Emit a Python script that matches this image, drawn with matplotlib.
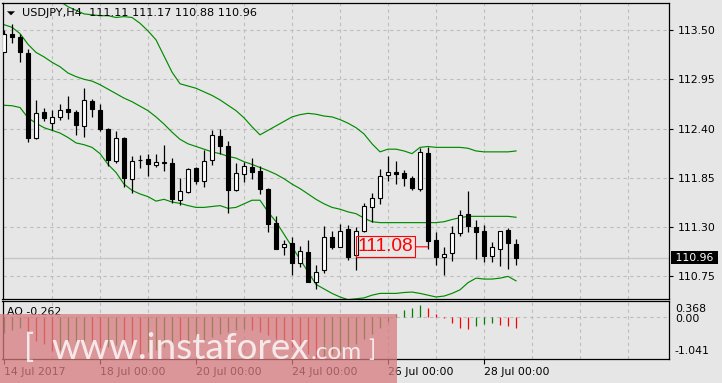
import matplotlib
matplotlib.use("Agg")
import matplotlib.pyplot as plt
from matplotlib.patches import Rectangle, Polygon
import numpy as np

# ---------------- data ----------------
symbol = "USDJPY,H4"
opens = [113.25, 113.46, 113.42, 113.24, 112.29, 112.58, 112.46, 112.53, 112.62, 112.59,
         112.43, 112.71, 112.61, 112.40, 112.04, 112.30, 111.84, 112.05, 112.06, 111.99,
         112.02, 112.01, 111.60, 111.69, 111.96, 111.81, 112.05, 112.32, 112.21, 111.71,
         111.89, 111.97, 111.93, 111.73, 111.35, 111.08, 111.12, 110.90, 111.02, 110.69,
         110.82, 111.19, 111.08, 111.28, 110.99, 111.26, 111.52, 111.62, 111.88, 111.91,
         111.90, 111.85, 111.73, 112.13, 111.16, 110.97, 111.01, 111.23, 111.45, 111.30,
         111.26, 110.98, 111.06, 111.27, 111.11]
highs = [113.50, 113.57, 113.46, 113.29, 112.72, 112.63, 112.61, 112.67, 112.76, 112.61,
         112.85, 112.73, 112.67, 112.41, 112.37, 112.31, 112.09, 112.11, 112.12, 112.12,
         112.22, 112.07, 111.85, 111.96, 111.97, 112.16, 112.38, 112.40, 112.26, 112.01,
         112.03, 112.07, 111.98, 111.74, 111.42, 111.16, 111.19, 111.09, 111.16, 110.88,
         111.31, 111.26, 111.33, 111.32, 111.30, 111.57, 111.68, 111.95, 112.09, 112.04,
         111.94, 111.87, 112.18, 112.19, 111.24, 111.08, 111.31, 111.49, 111.70, 111.38,
         111.32, 111.13, 111.26, 111.29, 111.17]
lows = [113.25, 113.36, 113.14, 112.25, 112.28, 112.48, 112.38, 112.50, 112.51, 112.33,
        112.31, 112.53, 112.37, 111.98, 112.01, 111.75, 111.68, 111.96, 111.87, 111.97,
        111.93, 111.57, 111.55, 111.68, 111.78, 111.75, 111.99, 112.12, 111.46, 111.70,
        111.80, 111.84, 111.67, 111.25, 111.05, 110.99, 110.76, 110.86, 110.69, 110.61,
        110.79, 111.06, 111.08, 110.93, 110.82, 111.25, 111.36, 111.56, 111.82, 111.78,
        111.76, 111.71, 111.70, 111.05, 110.88, 110.77, 110.92, 111.20, 111.25, 110.94,
        110.91, 110.91, 110.87, 110.83, 110.88]
closes = [113.46, 113.42, 113.25, 112.29, 112.57, 112.52, 112.53, 112.61, 112.59, 112.44,
          112.72, 112.62, 112.39, 112.05, 112.29, 111.85, 112.04, 112.05, 112.00, 112.03,
          112.02, 111.61, 111.70, 111.95, 111.81, 112.04, 112.33, 112.21, 111.71, 111.90,
          111.98, 111.91, 111.73, 111.33, 111.06, 111.11, 110.90, 111.03, 110.69, 110.80,
          111.19, 111.08, 111.26, 110.97, 111.26, 111.53, 111.63, 111.87, 111.91, 111.89,
          111.85, 111.74, 112.14, 111.15, 110.97, 111.00, 111.23, 111.43, 111.31, 111.24,
          110.98, 111.08, 111.26, 111.12, 110.96]

bb_upper = [114.46, 114.40, 114.28, 114.16, 114.04, 113.99, 113.90, 113.82, 113.76, 113.72,
            113.68, 113.67, 113.66, 113.66, 113.64, 113.65, 113.64, 113.575, 113.49, 113.39,
            113.21, 113.03, 112.90, 112.875, 112.85, 112.81, 112.77, 112.72, 112.66, 112.60,
            112.52, 112.42, 112.33, 112.38, 112.43, 112.48, 112.53, 112.555, 112.57, 112.56,
            112.54, 112.53, 112.50, 112.46, 112.41, 112.34, 112.23, 112.14, 112.17, 112.17,
            112.15, 112.12, 112.19, 112.20, 112.19, 112.19, 112.19, 112.19, 112.18, 112.15,
            112.14, 112.14, 112.14, 112.14, 112.15]
bb_middle = [113.56, 113.53, 113.46, 113.34, 113.25, 113.20, 113.14, 113.09, 113.02, 112.98,
             112.95, 112.93, 112.89, 112.84, 112.79, 112.74, 112.70, 112.65, 112.60, 112.53,
             112.45, 112.36, 112.28, 112.23, 112.20, 112.17, 112.14, 112.12, 112.09, 112.07,
             112.03, 112.00, 111.965, 111.93, 111.89, 111.84, 111.78, 111.73, 111.67, 111.61,
             111.56, 111.52, 111.50, 111.47, 111.45, 111.40, 111.36, 111.35, 111.35, 111.35,
             111.35, 111.35, 111.35, 111.35, 111.35, 111.36, 111.385, 111.405, 111.42, 111.42,
             111.42, 111.42, 111.42, 111.42, 111.41]
bb_lower = [112.66, 112.655, 112.635, 112.52, 112.46, 112.41, 112.38, 112.35, 112.30, 112.24,
            112.22, 112.19, 112.12, 112.00, 111.91, 111.78, 111.71, 111.67, 111.64, 111.59,
            111.61, 111.58, 111.565, 111.54, 111.52, 111.52, 111.53, 111.54, 111.51, 111.52,
            111.56, 111.60, 111.60, 111.47, 111.36, 111.22, 111.08, 110.94, 110.80, 110.66,
            110.61, 110.56, 110.52, 110.49, 110.50, 110.51, 110.54, 110.56, 110.56, 110.56,
            110.57, 110.575, 110.56, 110.54, 110.52, 110.53, 110.56, 110.60, 110.68, 110.73,
            110.72, 110.72, 110.73, 110.75, 110.70]

ao = [-0.39, -0.31, -0.28, -0.45, -0.58, -0.67, -0.84, -0.80, -0.76, -0.72,
      -0.68, -0.72, -0.77, -0.74, -0.70, -0.76, -0.83, -0.90, -0.86, -0.80,
      -0.73, -0.68, -0.72, -0.69, -0.64, -0.58, -0.50, -0.42, -0.37, -0.33,
      -0.30, -0.33, -0.38, -0.44, -0.55, -0.63, -0.74, -0.83, -0.92, -1.00,
      -0.97, -0.92, -0.85, -0.76, -0.66, -0.55, -0.42, -0.28, -0.12, 0.07,
      0.18, 0.23, 0.28, 0.23, 0.08, -0.03, -0.16, -0.28, -0.29, -0.23,
      -0.18, -0.16, -0.20, -0.23, -0.262]
ao_max_label = "0.368"
ao_zero_label = "0.00"
ao_min_label = "-1.041"

price_ticks = [113.50, 112.95, 112.40, 111.85, 111.30, 110.75]
time_label_idx = [0, 12, 24, 36, 48, 60]
time_labels = ["14 Jul 2017", "18 Jul 00:00", "20 Jul 00:00", "24 Jul 00:00",
               "26 Jul 00:00", "28 Jul 00:00"]
bars_per_day = 6
last_price = 110.96
label_price = 111.08
label_anchor = 53
label_text_pos = 47.7

# ---------------- layout ----------------
W, H = 722, 383
BG = '#E6E6E6'
FONT = 'DejaVu Sans'
FS = 7.8
plt.rcParams['font.family'] = [FONT]

fig = plt.figure(figsize=(W / 100, H / 100), dpi=100)
fig.patch.set_facecolor(BG)


def fx(px):
    return px / W


def fy(py):
    return 1 - py / H


L, R = 2.5, 669.3
ax = fig.add_axes([fx(L), fy(298.5), (R - L) / W, (298.5 - 2.7) / H])
ax2 = fig.add_axes([fx(L), fy(358.5), (R - L) / W, (358.5 - 300.6) / H])

n = len(closes)
idx = np.arange(n)
for a in (ax, ax2):
    a.set_facecolor(BG)
    a.set_xlim(-0.19, 83.16)
    for s in a.spines.values():
        s.set_linewidth(0.9)
        s.set_color('black')

ax.set_ylim(110.503, 113.805)
ax2.set_ylim(-1.02, 0.40)

grid_kw = dict(color='#BEBEBE', lw=0.8, ls=(0, (3, 3)), zorder=0.5)
for d in range(bars_per_day, 84, bars_per_day):
    ax.axvline(d, **grid_kw)
    ax2.axvline(d, **grid_kw)
for p in price_ticks:
    ax.axhline(p, **grid_kw)
ax2.axhline(0, **grid_kw)

# bid line
ax.axhline(last_price, color='#C4C4C4', lw=0.9, zorder=0.8)

# bands
band_col = '#008C00'
for band in (bb_upper, bb_middle, bb_lower):
    ax.plot(idx, band, color=band_col, lw=0.85, zorder=2)

# candles
o = np.array(opens); c = np.array(closes); h = np.array(highs); l = np.array(lows)
up = c >= o
ax.vlines(idx, l, h, color='black', lw=0.9, zorder=3)
bw = 0.6
body_lo = np.minimum(o, c)
body_h = np.maximum(np.abs(c - o), 0.004)
ax.bar(idx[up], body_h[up], bw, bottom=body_lo[up], facecolor='white',
       edgecolor='black', lw=0.8, zorder=4)
ax.bar(idx[~up], body_h[~up], bw, bottom=body_lo[~up], facecolor='black',
       edgecolor='black', lw=0.8, zorder=4)

# price axis
ax.set_xticks([])
ax.yaxis.tick_right()
ax.set_yticks(price_ticks)
ax.set_yticklabels([f"{p:.2f}" for p in price_ticks])
ax.tick_params(axis='y', direction='out', length=3, width=0.8, pad=3,
               labelsize=FS, colors='black')

# current price box
ax.annotate(f" {last_price:.2f} ", xy=(1, last_price), xycoords=('axes fraction', 'data'),
            xytext=(3, 0), textcoords='offset pixels', ha='left', va='center',
            color='white', fontsize=FS, annotation_clip=False, zorder=20,
            bbox=dict(boxstyle='square,pad=0.12', fc='black', ec='black', lw=0))

# red price label
ax.annotate(f"{label_price:.2f}", xy=(label_anchor, label_price),
            xytext=(label_text_pos, label_price), textcoords='data',
            ha='center', va='center', color='#FF0000', fontsize=13.8,
            family='Liberation Sans', zorder=6,
            bbox=dict(boxstyle='square,pad=0.1', fc='none', ec='#FF0000', lw=0.8),
            arrowprops=dict(arrowstyle='-', color='#FF0000', lw=0.8,
                            shrinkA=0, shrinkB=0))

# AO
ao_arr = np.array(ao)
cols = ['#008000' if (k == 0 or ao_arr[k] >= ao_arr[k - 1]) else '#FF0000' for k in range(n)]
ax2.vlines(idx, 0, ao_arr, colors=cols, lw=0.9, zorder=3)
ax2.set_yticks([])
ax2.set_xticks(time_label_idx)
ax2.set_xticklabels(time_labels, ha='left')
ax2.tick_params(axis='x', direction='out', length=3.5, width=0.8, pad=2.5,
                labelsize=FS, colors='black')

fig.text(fx(675), fy(309.5), ao_max_label, va='center', ha='left', fontsize=FS)
fig.text(fx(675), fy(318.5), ao_zero_label, va='center', ha='left', fontsize=FS)
fig.text(fx(674), fy(351.5), ao_min_label, va='center', ha='left', fontsize=FS)
fig.text(fx(7.3), fy(312), f"AO {ao[-1]:.3f}", va='center', ha='left', fontsize=FS)

# title
fig.add_artist(Polygon([[fx(7), fy(11.3)], [fx(15), fy(11.3)], [fx(11), fy(15.3)]],
                       closed=True, transform=fig.transFigure, fc='black', ec='none'))
fig.text(fx(21.7), fy(12.7),
         f"{symbol}  {opens[-1]:.2f} {highs[-1]:.2f} {lows[-1]:.2f} {closes[-1]:.2f}",
         va='center', ha='left', fontsize=8.1)

# watermark
fig.add_artist(Rectangle((0, 0), fx(397), (383 - 314) / H, transform=fig.transFigure,
                         fc=(215 / 255, 123 / 255, 126 / 255), alpha=0.75, ec='none', zorder=10))
wm_kw = dict(color='white', alpha=0.8, family='Lato', weight='normal', va='baseline',
             ha='left', zorder=11)
r = fig.canvas.get_renderer()
fig.text(fx(24), fy(357), "[", fontsize=24, **wm_kw)
t2 = fig.text(fx(51.5), fy(359), "www.instaforex", fontsize=26.6, **wm_kw)
bb = t2.get_window_extent(renderer=r)
fig.text(fx(bb.x1 + 1), fy(359), ".com", fontsize=17.5, **wm_kw)
fig.text(fx(368), fy(357), "]", fontsize=17, **wm_kw)

fig.savefig("out.png", dpi=100, facecolor=BG)
